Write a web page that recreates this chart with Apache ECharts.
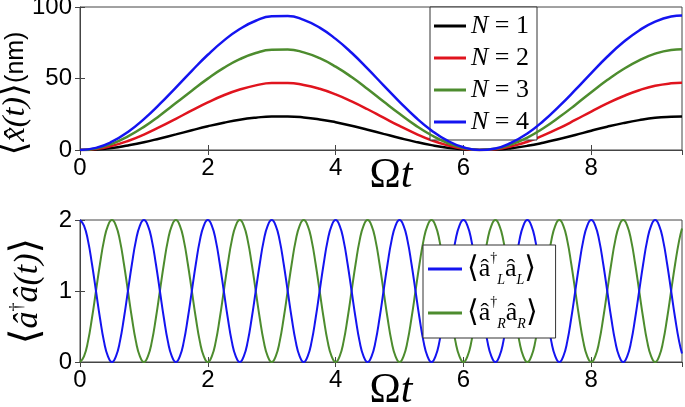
<!DOCTYPE html>
<html>
<head>
<meta charset="utf-8">
<script src="https://cdn.jsdelivr.net/npm/echarts@6/dist/echarts.min.js"></script>
<style>
  html, body { margin: 0; padding: 0; background: #fff; }
  #chart { width: 685px; height: 407px; }
</style>
</head>
<body>
<div id="chart"></div>
<script>
// top panel: <x(t)> in nm at t = 0, 0.25, ... , 9.25, 9.42
var tTop = [0, 0.25, 0.5, 0.75, 1, 1.25, 1.5, 1.75, 2, 2.25, 2.5, 2.75, 3, 3.25, 3.5, 3.75,
    4, 4.25, 4.5, 4.75, 5, 5.25, 5.5, 5.75, 6, 6.25, 6.5, 6.75, 7, 7.25, 7.5, 7.75,
    8, 8.25, 8.5, 8.75, 9, 9.25, 9.42];
var xN1 = [0, 0.4, 1.4, 3.2, 5.4, 8.1, 10.9, 13.8, 16.6, 19.1, 21.2, 22.6, 23.4, 23.4, 22.8, 21.4,
    19.4, 17.0, 14.2, 11.3, 8.4, 5.7, 3.4, 1.6, 0.5, 0, 0.3, 1.3, 2.9, 5.1, 7.7, 10.5,
    13.5, 16.3, 18.8, 20.9, 22.5, 23.3, 23.5];
var xN2 = [0, 0.7, 2.9, 6.3, 10.8, 16.1, 21.8, 27.7, 33.3, 38.3, 42.3, 45.2, 46.8, 46.9, 45.5, 42.8,
    38.9, 34.0, 28.5, 22.6, 16.8, 11.5, 6.8, 3.3, 0.9, 0, 0.5, 2.6, 5.8, 10.2, 15.3, 21.0,
    26.9, 32.6, 37.6, 41.8, 44.9, 46.6, 47.0];
var xN3 = [0, 1.1, 4.3, 9.5, 16.2, 24.2, 32.8, 41.5, 49.9, 57.4, 63.5, 67.8, 70.1, 70.3, 68.3, 64.2,
    58.3, 51.0, 42.7, 33.9, 25.3, 17.2, 10.3, 4.9, 1.4, 0, 0.8, 3.9, 8.7, 15.2, 23.0, 31.5,
    40.4, 48.9, 56.5, 62.7, 67.4, 70.0, 70.5];
var xN4 = [0, 1.5, 5.8, 12.6, 21.6, 32.2, 43.7, 55.4, 66.6, 76.5, 84.6, 90.4, 93.5, 93.7, 91.0, 85.6,
    77.7, 68.0, 56.9, 45.2, 33.7, 22.9, 13.7, 6.5, 1.9, 0, 1.1, 5.2, 11.6, 20.3, 30.7, 42.0,
    53.8, 65.2, 75.3, 83.6, 89.8, 93.3, 94.0];
var topNames = ['N = 1', 'N = 2', 'N = 3', 'N = 4'];
var topColors = ['#000000', '#e0141e', '#4d8c2e', '#1414f0'];

// bottom panel: occupations, read at t = 0, 0.0625, ... , 9.375, 9.42 (one period per line)
var tBot = [
    0, 0.0625, 0.125, 0.1875, 0.25, 0.3125, 0.375, 0.4375, 0.5, 0.5625, 0.625, 0.6875, 0.75, 0.8125, 0.875, 0.9375,
    1, 1.0625, 1.125, 1.1875, 1.25, 1.3125, 1.375, 1.4375, 1.5, 1.5625, 1.625, 1.6875, 1.75, 1.8125, 1.875, 1.9375,
    2, 2.0625, 2.125, 2.1875, 2.25, 2.3125, 2.375, 2.4375, 2.5, 2.5625, 2.625, 2.6875, 2.75, 2.8125, 2.875, 2.9375,
    3, 3.0625, 3.125, 3.1875, 3.25, 3.3125, 3.375, 3.4375, 3.5, 3.5625, 3.625, 3.6875, 3.75, 3.8125, 3.875, 3.9375,
    4, 4.0625, 4.125, 4.1875, 4.25, 4.3125, 4.375, 4.4375, 4.5, 4.5625, 4.625, 4.6875, 4.75, 4.8125, 4.875, 4.9375,
    5, 5.0625, 5.125, 5.1875, 5.25, 5.3125, 5.375, 5.4375, 5.5, 5.5625, 5.625, 5.6875, 5.75, 5.8125, 5.875, 5.9375,
    6, 6.0625, 6.125, 6.1875, 6.25, 6.3125, 6.375, 6.4375, 6.5, 6.5625, 6.625, 6.6875, 6.75, 6.8125, 6.875, 6.9375,
    7, 7.0625, 7.125, 7.1875, 7.25, 7.3125, 7.375, 7.4375, 7.5, 7.5625, 7.625, 7.6875, 7.75, 7.8125, 7.875, 7.9375,
    8, 8.0625, 8.125, 8.1875, 8.25, 8.3125, 8.375, 8.4375, 8.5, 8.5625, 8.625, 8.6875, 8.75, 8.8125, 8.875, 8.9375,
    9, 9.0625, 9.125, 9.1875, 9.25, 9.3125, 9.375, 9.42];
var nL = [
    2, 1.92, 1.71, 1.38, 1, 0.62, 0.29, 0.08, 0, 0.08, 0.29, 0.62, 1, 1.38, 1.71, 1.92,
    2, 1.92, 1.71, 1.38, 1, 0.62, 0.29, 0.08, 0, 0.08, 0.29, 0.62, 1, 1.38, 1.71, 1.92,
    2, 1.92, 1.71, 1.38, 1, 0.62, 0.29, 0.08, 0, 0.08, 0.29, 0.62, 1, 1.38, 1.71, 1.92,
    2, 1.92, 1.71, 1.38, 1, 0.62, 0.29, 0.08, 0, 0.08, 0.29, 0.62, 1, 1.38, 1.71, 1.92,
    2, 1.92, 1.71, 1.38, 1, 0.62, 0.29, 0.08, 0, 0.08, 0.29, 0.62, 1, 1.38, 1.71, 1.92,
    2, 1.92, 1.71, 1.38, 1, 0.62, 0.29, 0.08, 0, 0.08, 0.29, 0.62, 1, 1.38, 1.71, 1.92,
    2, 1.92, 1.71, 1.38, 1, 0.62, 0.29, 0.08, 0, 0.08, 0.29, 0.62, 1, 1.38, 1.71, 1.92,
    2, 1.92, 1.71, 1.38, 1, 0.62, 0.29, 0.08, 0, 0.08, 0.29, 0.62, 1, 1.38, 1.71, 1.92,
    2, 1.92, 1.71, 1.38, 1, 0.62, 0.29, 0.08, 0, 0.08, 0.29, 0.62, 1, 1.38, 1.71, 1.92,
    2, 1.92, 1.71, 1.38, 1, 0.62, 0.29, 0.12];
var nR = [
    0, 0.08, 0.29, 0.62, 1, 1.38, 1.71, 1.92, 2, 1.92, 1.71, 1.38, 1, 0.62, 0.29, 0.08,
    0, 0.08, 0.29, 0.62, 1, 1.38, 1.71, 1.92, 2, 1.92, 1.71, 1.38, 1, 0.62, 0.29, 0.08,
    0, 0.08, 0.29, 0.62, 1, 1.38, 1.71, 1.92, 2, 1.92, 1.71, 1.38, 1, 0.62, 0.29, 0.08,
    0, 0.08, 0.29, 0.62, 1, 1.38, 1.71, 1.92, 2, 1.92, 1.71, 1.38, 1, 0.62, 0.29, 0.08,
    0, 0.08, 0.29, 0.62, 1, 1.38, 1.71, 1.92, 2, 1.92, 1.71, 1.38, 1, 0.62, 0.29, 0.08,
    0, 0.08, 0.29, 0.62, 1, 1.38, 1.71, 1.92, 2, 1.92, 1.71, 1.38, 1, 0.62, 0.29, 0.08,
    0, 0.08, 0.29, 0.62, 1, 1.38, 1.71, 1.92, 2, 1.92, 1.71, 1.38, 1, 0.62, 0.29, 0.08,
    0, 0.08, 0.29, 0.62, 1, 1.38, 1.71, 1.92, 2, 1.92, 1.71, 1.38, 1, 0.62, 0.29, 0.08,
    0, 0.08, 0.29, 0.62, 1, 1.38, 1.71, 1.92, 2, 1.92, 1.71, 1.38, 1, 0.62, 0.29, 0.08,
    0, 0.08, 0.29, 0.62, 1, 1.38, 1.71, 1.88];
var botNames = ['aL', 'aR'];
var botColors = ['#1414f0', '#4d8c2e'];

var serif = "'Liberation Serif', 'DejaVu Serif', serif";
var sans = "'Liberation Sans', Arial, sans-serif";

function pairs(xs, ys) {
    return xs.map(function (x, i) { return [x, ys[i]]; });
}

var tickStyle = { show: true, inside: true, length: 5, lineStyle: { color: '#444' } };

function xAxisFor(gi, gap) {
    return {
        type: 'value', gridIndex: gi, min: 0, max: 9.42, interval: 2,
        axisLine: { show: true, lineStyle: { color: '#444', width: 1 } },
        axisTick: tickStyle,
        axisLabel: { fontFamily: sans, fontSize: 24, color: '#000', margin: 6, showMaxLabel: false },
        splitLine: { show: false },
        name: '{o|Ω}{t|t}',
        nameLocation: 'middle',
        nameGap: gap,
        nameMoveOverlap: false,
        nameTextStyle: {
            padding: [0, 0, 0, 20],
            rich: {
                o: { fontFamily: serif, fontSize: 42, color: '#000' },
                t: { fontFamily: serif, fontSize: 42, fontStyle: 'italic', color: '#000' }
            }
        }
    };
}

// mirrored ticks on the top / right edges of each box
function mirrorX(gi) {
    return { type: 'value', gridIndex: gi, position: 'top', min: 0, max: 9.42, interval: 2,
        axisLine: { show: false }, axisTick: tickStyle, axisLabel: { show: false }, splitLine: { show: false } };
}
function mirrorY(gi, max, step) {
    return { type: 'value', gridIndex: gi, position: 'right', min: 0, max: max, interval: step,
        axisLine: { show: false }, axisTick: tickStyle, axisLabel: { show: false }, splitLine: { show: false } };
}

var chart = echarts.init(document.getElementById('chart'), null, { renderer: 'canvas' });

var series = [];
topNames.forEach(function (n, i) {
    series.push({
        name: n, type: 'line', xAxisIndex: 0, yAxisIndex: 0,
        data: pairs(tTop, [xN1, xN2, xN3, xN4][i]),
        smooth: true, showSymbol: false, color: topColors[i],
        lineStyle: { width: 2.5 }, z: 2 + i
    });
});
botNames.forEach(function (n, i) {
    series.push({
        name: n, type: 'line', xAxisIndex: 1, yAxisIndex: 1,
        data: pairs(tBot, [nL, nR][i]),
        smooth: true, showSymbol: false, color: botColors[i],
        lineStyle: { width: 2 }, z: 3 - i
    });
});

chart.setOption({
    animation: false,
    backgroundColor: '#fff',
    grid: [
        { left: 80, right: 3, top: 7, height: 143, show: true, borderColor: '#444', borderWidth: 1, outerBoundsMode: 'none' },
        { left: 80, right: 3, top: 220, height: 142, show: true, borderColor: '#444', borderWidth: 1, outerBoundsMode: 'none' }
    ],
    xAxis: [xAxisFor(0, 5), xAxisFor(1, 8), mirrorX(0), mirrorX(1)],
    yAxis: [
        {
            type: 'value', gridIndex: 0, min: 0, max: 100, interval: 50,
            axisLine: { show: true, lineStyle: { color: '#444' } },
            axisTick: tickStyle,
            axisLabel: { fontFamily: sans, fontSize: 24, color: '#000', margin: 8 },
            splitLine: { show: false },
            name: '{b|⟨}{x|x̂(t)}{b|⟩}{u|(nm)}',
            nameLocation: 'middle', nameRotate: 90, nameGap: 46,
            nameMoveOverlap: false,
            nameTextStyle: {
                padding: [0, 30, 0, 0],
                rich: {
                    b: { fontFamily: "'DejaVu Serif', serif", fontSize: 36, color: '#000' },
                    x: { fontFamily: serif, fontSize: 32, fontStyle: 'italic', color: '#000' },
                    u: { fontFamily: sans, fontSize: 25, color: '#000' }
                }
            }
        },
        {
            type: 'value', gridIndex: 1, min: 0, max: 2, interval: 1,
            axisLine: { show: true, lineStyle: { color: '#444' } },
            axisTick: tickStyle,
            axisLabel: { fontFamily: sans, fontSize: 24, color: '#000', margin: 8 },
            splitLine: { show: false },
            name: '{b|⟨}{x|â}{s|†}{y|â(t)}{b|⟩}',
            nameLocation: 'middle', nameRotate: 90, nameGap: 32,
            nameMoveOverlap: false,
            nameTextStyle: {
                rich: {
                    b: { fontFamily: "'DejaVu Serif', serif", fontSize: 40, color: '#000' },
                    x: { fontFamily: serif, fontSize: 34, fontStyle: 'italic', color: '#000' },
                    y: { fontFamily: serif, fontSize: 34, fontStyle: 'italic', color: '#000' },
                    s: { fontFamily: serif, fontSize: 18, color: '#000', verticalAlign: 'top' }
                }
            }
        },
        mirrorY(0, 100, 50),
        mirrorY(1, 2, 1)
    ],
    legend: [
        {
            data: topNames, orient: 'vertical', left: 430, top: 7,
            icon: 'rect', itemWidth: 32, itemHeight: 3, itemGap: 6,
            backgroundColor: '#fff', borderColor: '#333', borderWidth: 1, borderRadius: 0,
            padding: [6, 8, 5, 4],
            formatter: function (name) {
                return '{n|N}{r| = ' + name.slice(4) + '}';
            },
            textStyle: {
                lineHeight: 26,
                rich: {
                    n: { fontFamily: serif, fontSize: 26, fontStyle: 'italic', color: '#000' },
                    r: { fontFamily: serif, fontSize: 26, color: '#000' }
                }
            }
        },
        {
            data: botNames, orient: 'vertical', left: 423, top: 245,
            icon: 'rect', itemWidth: 34, itemHeight: 3, itemGap: 8,
            backgroundColor: '#fff', borderColor: '#333', borderWidth: 1, borderRadius: 0,
            padding: [6, 18, 7, 5],
            formatter: function (name) {
                var s = name.slice(1);
                return '{b|⟨}{a|â}{sup|†}{sub|' + s + '}{a|â}{sub|' + s + '}{b|⟩}';
            },
            textStyle: {
                lineHeight: 36,
                rich: {
                    b: { fontFamily: "'DejaVu Serif', serif", fontSize: 30, color: '#000', lineHeight: 36 },
                    a: { fontFamily: serif, fontSize: 26, color: '#000', lineHeight: 36 },
                    sup: { fontFamily: serif, fontSize: 14, color: '#000', verticalAlign: 'top', lineHeight: 22 },
                    sub: { fontFamily: serif, fontSize: 14, fontStyle: 'italic', color: '#000', verticalAlign: 'bottom', lineHeight: 16 }
                }
            }
        }
    ],
    series: series
});
</script>
</body>
</html>
